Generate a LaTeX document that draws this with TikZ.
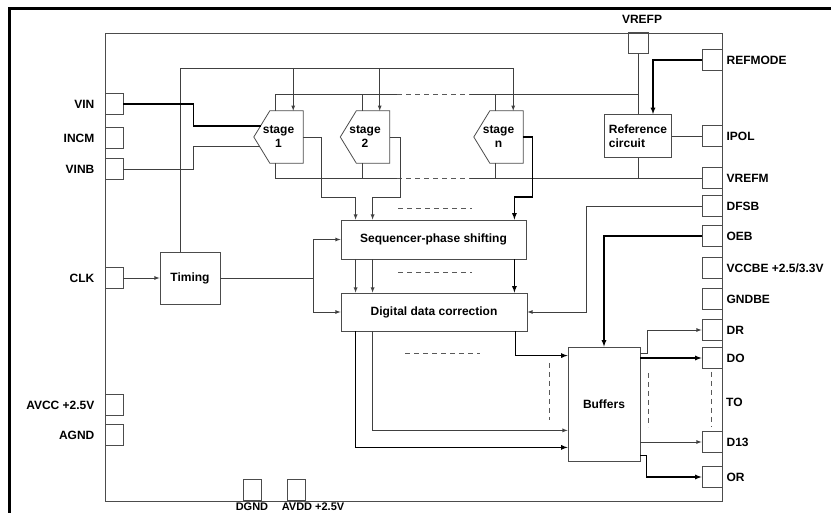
\documentclass[tikz,border=0pt]{standalone}
\usepackage{fontspec}
\setmainfont{Liberation Sans}
\usetikzlibrary{positioning}

\tikzset{
  padbox/.style={draw=black!70, line width=0.8pt, minimum width=18pt, minimum height=21pt, inner sep=0pt},
  block/.style={draw=black!70, line width=0.8pt, inner sep=0pt, align=center},
  lbltext/.style={inner sep=0pt},
  wire/.style={draw=black!75, line width=0.8pt},
  bus/.style={draw=black, line width=1.2pt},
  dashgap/.style={draw=black!65, line width=0.8pt, dash pattern=on 5pt off 4pt},
}

\begin{document}
\begin{tikzpicture}[x=1pt,y=-1pt,>=latex,font=\fontsize{12}{14}\selectfont\bfseries]
\useasboundingbox (0,0) rectangle (831,513);
% frame and chip outline
\draw[line width=3pt] (9,530) -- (9,9) -- (840,9);
\draw[black!70, line width=0.8pt] (105,33) rectangle (722,501);

% pads on the left side
\foreach \n/\y/\txt in {vin/104/VIN, incm/138/INCM, vinb/169/VINB, clk/278/CLK, avcc/405/AVCC +2.5V, agnd/435/AGND}{
  \node[padbox] (\n) at (114,\y) {};
  \node[lbltext, left=10pt of \n] (\n-l) {\txt};
}
% pads on the right side
\foreach \n/\y/\txt in {refmode/60/REFMODE, ipol/136/IPOL, vrefm/178/VREFM, dfsb/206/DFSB, oeb/236/OEB,
    vccbe/268/{VCCBE +2.5/3.3V}, gndbe/299/GNDBE, dr/330/DR, dout/358/DO, d13/442/D13, ovr/477/OR}{
  \node[padbox, minimum width=20pt] (\n) at (712,\y) {};
  \node[lbltext, right=4pt of \n] (\n-l) {\txt};
}
\node[lbltext, anchor=west] (to-l) at (726,402) {TO};
% top and bottom pads
\node[padbox, minimum width=20pt] (vrefp) at (638,43) {};
\node[lbltext, above=8pt of vrefp, xshift=4pt] (vrefp-l) {VREFP};
\node[padbox] (dgnd) at (252,490) {};
\node[padbox] (avdd) at (296,490) {};
\node[lbltext, anchor=north, font=\fontsize{11}{12}\selectfont\bfseries] (dgnd-l) at ([yshift=-2pt]dgnd.south) {DGND};
\node[lbltext, anchor=north west, font=\fontsize{11}{12}\selectfont\bfseries] (avdd-l) at ([xshift=-5pt,yshift=-2pt]avdd.south west) {AVDD +2.5V};

% blocks
\node[block, minimum width=60pt, minimum height=52pt] (tim) at (190,278) {Timing};
\node[block, minimum width=185pt, minimum height=39pt] (seq) at (433.5,239.5) {Sequencer-phase shifting};
\node[block, minimum width=186pt, minimum height=38pt] (ddc) at (434,312) {Digital data correction};
\node[block, minimum width=72pt, minimum height=114pt] (buf) at (604,404) {Buffers};
\node[block, minimum width=67pt, minimum height=43pt, align=left] (ref) at (638,136) {Reference\\ circuit};

% pipeline stages
\foreach \s/\x/\idx in {st1/278.5/1, st2/365/2, stn/498.5/n}{
  \node[inner sep=0pt, minimum width=49pt, minimum height=52pt, align=center] (\s) at (\x,137) {stage\\\idx};
  \draw[black!70, line width=0.8pt] (\s.north east) -- (\s.south east) -- ([xshift=16pt]\s.south west)
    -- (\s.west) -- ([xshift=16pt]\s.north west) -- cycle;
}

\coordinate (clkbus) at (180,68);
\coordinate (refbus) at (0,94);
\coordinate (cmbus) at (0,178);
\coordinate (gapl) at (397,0);
\coordinate (gapr) at (470,0);

% clock to the stages
\draw[wire] (tim.north -| clkbus) |- ([xshift=-10pt]stn.north east |- clkbus);
\foreach \s in {st1,st2,stn}
  \draw[wire,->] ([xshift=-10pt]\s.north east |- clkbus) -- ([xshift=-10pt]\s.north east);

% reference lines
\draw[wire] ([xshift=22pt]st1.north west) |- (gapl |- refbus);
\draw[dashgap] (gapl |- refbus) -- (gapr |- refbus);
\draw[wire] (gapr |- refbus) -- (vrefp.south |- refbus);
\draw[wire] ([xshift=22pt]st1.south west) |- (gapl |- cmbus);
\draw[dashgap] (gapl |- cmbus) -- (gapr |- cmbus);
\draw[wire] (gapr |- cmbus) -- (vrefm.west);
\foreach \s in {st2,stn}{
  \draw[wire] ([xshift=22pt]\s.north west) -- ([xshift=22pt]\s.north west |- refbus);
  \draw[wire] ([xshift=22pt]\s.south west) -- ([xshift=22pt]\s.south west |- cmbus);
}
\draw[wire] (vrefp.south) -- (ref.north);
\draw[wire] (ref.south) -- (ref.south |- cmbus);
\draw[bus,->] (refmode.west) -| ([xshift=15pt]ref.north);
\draw[wire] (ref.east) -- (ipol.west);

% analog inputs
\draw[bus] (vin.east) -| ++(70,22) -- ([xshift=7pt,yshift=11pt]st1.west);
\draw[wire] (vinb.east) -| ++(70,-23) -- ([xshift=6pt,yshift=-9pt]st1.west);

% stage outputs
\draw[wire,->] (st1.east) -| ++(18,60) -| ([xshift=15pt]seq.north west);
\draw[wire,->] (st2.east) -| ++(11,60) -| ([xshift=32pt]seq.north west);
\draw[bus,->] (stn.east) -| ++(9,60) -| ([xshift=-12pt]seq.north east);
\draw[dashgap] (398,208) -- (472,208);

% timing
\draw[wire,->] (clk.east) -- (tim.west);
\draw[wire,->] (tim.east) -- ++(93,0) |- (seq.west);
\draw[wire,->] (tim.east) ++(93,0) |- (ddc.west);

% sequencer to correction
\foreach \o in {15,32}
  \draw[wire,->] ([xshift=\o pt]seq.south west) -- ([xshift=\o pt]ddc.north west);
\draw[bus,->] ([xshift=-12pt]seq.south east) -- ([xshift=-12pt]seq.south east |- ddc.north);
\draw[dashgap] (398,272) -- (472,272);
\draw[wire,->] (dfsb.west) -| ([xshift=59pt]ddc.east) -- (ddc.east);

% correction to buffers
\draw[bus,->] ([xshift=-12pt]ddc.south east) |- ([yshift=-9pt]buf.north west);
\draw[wire,->] ([xshift=32pt]ddc.south west) |- ([yshift=31pt]buf.south west);
\draw[bus,->] ([xshift=15pt]ddc.south west) |- ([yshift=14pt]buf.south west);
\draw[dashgap] (405,353) -- (480,353);
\draw[dashgap] (549,363) -- (549,420);
\draw[bus,->] (oeb.west) -| (buf.north);

% buffers to outputs
\draw[wire,->] ([yshift=-7pt]buf.north east) -- ++(7,0) |- (dr.west);
\draw[bus,->] (buf.east |- dout.west) -- (dout.west);
\draw[dashgap] (648,373) -- (648,427);
\draw[wire,->] (buf.east |- d13.west) -- (d13.west);
\draw[bus,->] ([yshift=6pt]buf.south east) -- ++(6,0) |- (ovr.west);
\draw[dashgap] (711,372) -- (711,427);
\end{tikzpicture}
\end{document}
